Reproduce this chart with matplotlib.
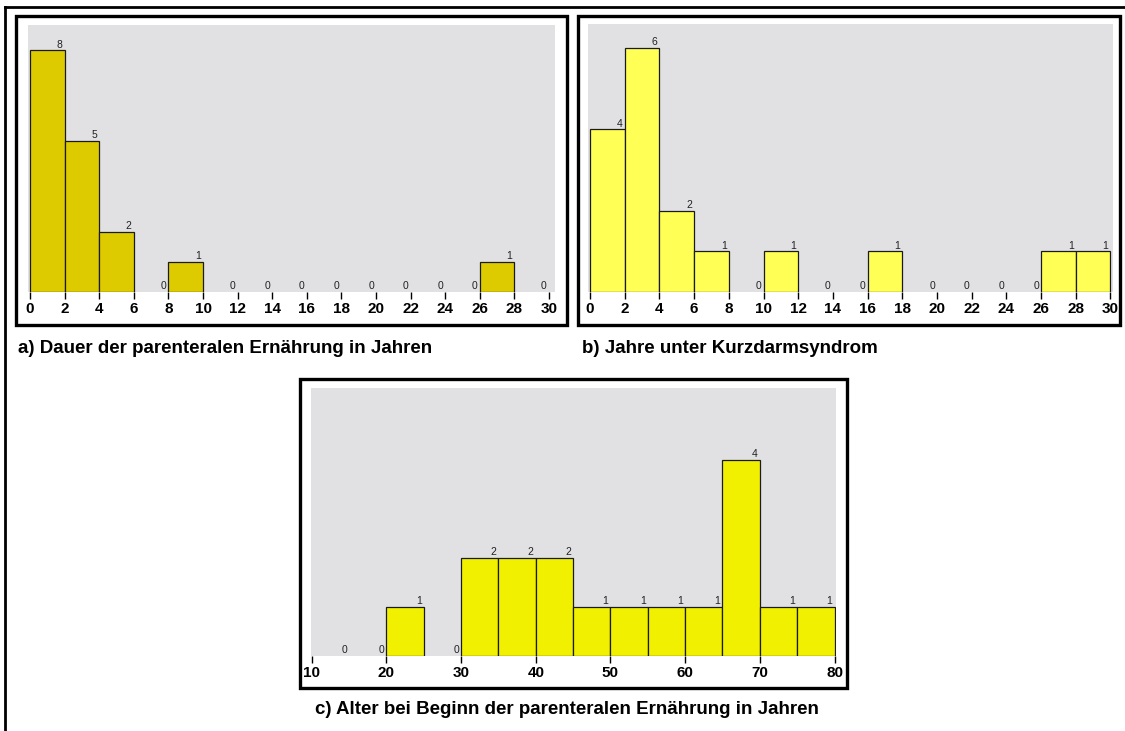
import matplotlib
matplotlib.use("Agg")
import matplotlib.pyplot as plt
from matplotlib.patches import Rectangle
from matplotlib.lines import Line2D
import numpy as np

plt.rcParams['font.family'] = ['Liberation Sans', 'DejaVu Sans']

# ---- data ----
edges_a = list(range(0, 32, 2))
counts_a = [8, 5, 2, 0, 1, 0, 0, 0, 0, 0, 0, 0, 0, 1, 0]
caption_a = "a) Dauer der parenteralen Ernährung in Jahren"

edges_b = list(range(0, 32, 2))
counts_b = [4, 6, 2, 1, 0, 1, 0, 0, 1, 0, 0, 0, 0, 1, 1]
caption_b = "b) Jahre unter Kurzdarmsyndrom"

edges_c = list(range(10, 85, 5))
counts_c = [0, 0, 1, 0, 2, 2, 2, 1, 1, 1, 1, 4, 1, 1]
ticks_c = list(range(10, 90, 10))
caption_c = "c) Alter bei Beginn der parenteralen Ernährung in Jahren"

W, H = 1125, 731
fig = plt.figure(figsize=(W / 100, H / 100), dpi=100)
fig.patch.set_facecolor('white')

GREY = '#E1E0E3'


def rect_ax(left, top, right, bottom):
    return fig.add_axes([left / W, 1 - bottom / H, (right - left) / W, (bottom - top) / H])


def fig_rect(left, top, right, bottom, lw):
    fig.add_artist(Rectangle((left / W, 1 - bottom / H), (right - left) / W, (bottom - top) / H,
                             transform=fig.transFigure, fill=False, edgecolor='black', linewidth=lw))


def histo(ax, edges, counts, color, xlim, ymax, ticks):
    ax.set_facecolor(GREY)
    lefts = edges[:-1]
    widths = [edges[i + 1] - edges[i] for i in range(len(counts))]
    lws = [0.9 if c > 0 else 0 for c in counts]
    ax.bar(lefts, counts, width=widths, align='edge', color=color, edgecolor='#1a1a1a',
           linewidth=lws, zorder=2)
    for i, c in enumerate(counts):
        ax.annotate(str(c), xy=(edges[i + 1], c), xytext=(-1.5, 0.4), textcoords='offset points',
                    ha='right', va='bottom', fontsize=7.5, color='#222222', zorder=3)
    ax.set_xlim(*xlim)
    ax.set_ylim(0, ymax)
    for s in ax.spines.values():
        s.set_visible(False)
    ax.set_yticks([])
    ax.set_xticks(ticks)
    ax.set_xticklabels([str(t) for t in ticks], fontsize=11, fontweight='bold')
    ax.tick_params(axis='x', direction='out', length=5, width=1, pad=2.5, color='black')


# outer frame lines
fig.add_artist(Line2D([5 / W, 1], [1 - 7 / H, 1 - 7 / H], transform=fig.transFigure, color='black', lw=2))
fig.add_artist(Line2D([5 / W, 5 / W], [1 - 7 / H, 0], transform=fig.transFigure, color='black', lw=2))

# panel a
ax_a = rect_ax(28, 25, 555, 292)
histo(ax_a, edges_a, counts_a, '#DDCB00', (-0.12, 30.35), 8.83, edges_a)
fig_rect(16, 16, 567, 325, 2.4)
fig.text(18 / W, 1 - 348 / H, caption_a, fontsize=13.5, fontweight='bold', ha='left', va='center')

# panel b
ax_b = rect_ax(588, 24, 1113, 292)
histo(ax_b, edges_b, counts_b, '#FFFF55', (-0.12, 30.15), 6.58, edges_b)
fig_rect(578, 16, 1120, 325, 2.4)
fig.text(582 / W, 1 - 348 / H, caption_b, fontsize=13.5, fontweight='bold', ha='left', va='center')

# panel c
ax_c = rect_ax(311, 388, 836, 656)
histo(ax_c, edges_c, counts_c, '#F0F000', (9.9, 80.2), 5.47, ticks_c)
fig_rect(300, 379, 847, 688, 2.4)
fig.text(567 / W, 1 - 710 / H, caption_c, fontsize=13.5, fontweight='bold', ha='center', va='center')

fig.savefig('out.png', dpi=100, facecolor='white')
